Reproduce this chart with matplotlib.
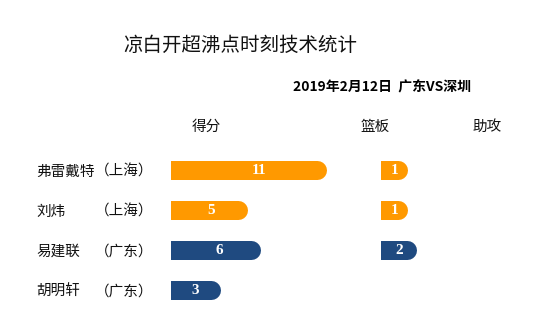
import matplotlib
matplotlib.use("Agg")
import matplotlib.pyplot as plt

plt.rcParams['font.family'] = ['Noto Sans CJK SC', 'DejaVu Sans']

title = "凉白开超沸点时刻技术统计"
subtitle = "2019年2月12日  广东VS深圳"
headers = ["得分", "篮板", "助攻"]
players = ["弗雷戴特", "刘炜", "易建联", "胡明轩"]
teams = ["（上海）", "（上海）", "（广东）", "（广东）"]
points = [11, 5, 6, 3]
rebounds = [1, 1, 2, 0]
assists = [0, 0, 0, 0]

ORANGE = "#FF9900"
BLUE = "#1F4A80"
team_colors = {"（上海）": ORANGE, "（广东）": BLUE}

W, H = 555, 317
fig = plt.figure(figsize=(W / 100, H / 100), dpi=100)
fig.patch.set_facecolor("white")


def px_axes(left, top, width, height):
    return fig.add_axes([left / W, 1 - (top + height) / H, width / W, height / H])


def ftext(x, y, s, **kw):
    fig.text(x / W, 1 - y / H, s, **kw)


LW = 19 * 0.72  # bar thickness in points (19 px)

# --- points axes
ax_p = px_axes(171, 150, 14 * 13.3, 160)
ax_p.set_xlim(0, 14)
ax_p.set_ylim(3.5, -0.5)
ax_p.axis("off")
for i, (v, t) in enumerate(zip(points, teams)):
    if v > 0:
        ax_p.plot([0, v], [i, i], color=team_colors[t], lw=LW,
                  solid_capstyle="round", clip_on=True)
        ax_p.text(v * 0.6, i, str(v), color="white", ha="center", va="center",
                  fontsize=11, fontweight="bold", family="Liberation Serif")

# --- rebounds axes
base = -0.9
ax_r = px_axes(381, 150, 4.9 * 9, 160)
ax_r.set_xlim(base, 4)
ax_r.set_ylim(3.5, -0.5)
ax_r.axis("off")
cap = 9.5 / 9
for i, (v, t) in enumerate(zip(rebounds, teams)):
    if v > 0:
        ax_r.plot([base, v], [i, i], color=team_colors[t], lw=LW,
                  solid_capstyle="round", clip_on=True)
        ax_r.text((base + v + cap) / 2, i, str(v), color="white", ha="center",
                  va="center", fontsize=11, fontweight="bold",
                  family="Liberation Serif")

# --- assists axes (no non-zero values)
ax_a = px_axes(473, 150, 4.9 * 9, 160)
ax_a.set_xlim(base, 4)
ax_a.set_ylim(3.5, -0.5)
ax_a.axis("off")
for i, (v, t) in enumerate(zip(assists, teams)):
    if v > 0:
        ax_a.plot([base, v], [i, i], color=team_colors[t], lw=LW,
                  solid_capstyle="round", clip_on=True)

# --- row labels
for i, (n, t) in enumerate(zip(players, teams)):
    y = 172 + 40 * i
    ftext(36, y, n, ha="left", va="center", fontsize=10.5, color="#111111")
    ftext(95, y, t, ha="left", va="center", fontsize=10.5, color="#111111")

# --- headers
for x, h in zip([206, 375, 487], headers):
    ftext(x, 127, h, ha="center", va="center", fontsize=10.5, color="#111111")

ftext(240, 45, title, ha="center", va="center", fontsize=14, color="#111111",
      fontweight="light")
ftext(382, 87, subtitle, ha="center", va="center", fontsize=10, color="black",
      fontweight="bold")

fig.savefig("out.png", dpi=100, facecolor="white")
